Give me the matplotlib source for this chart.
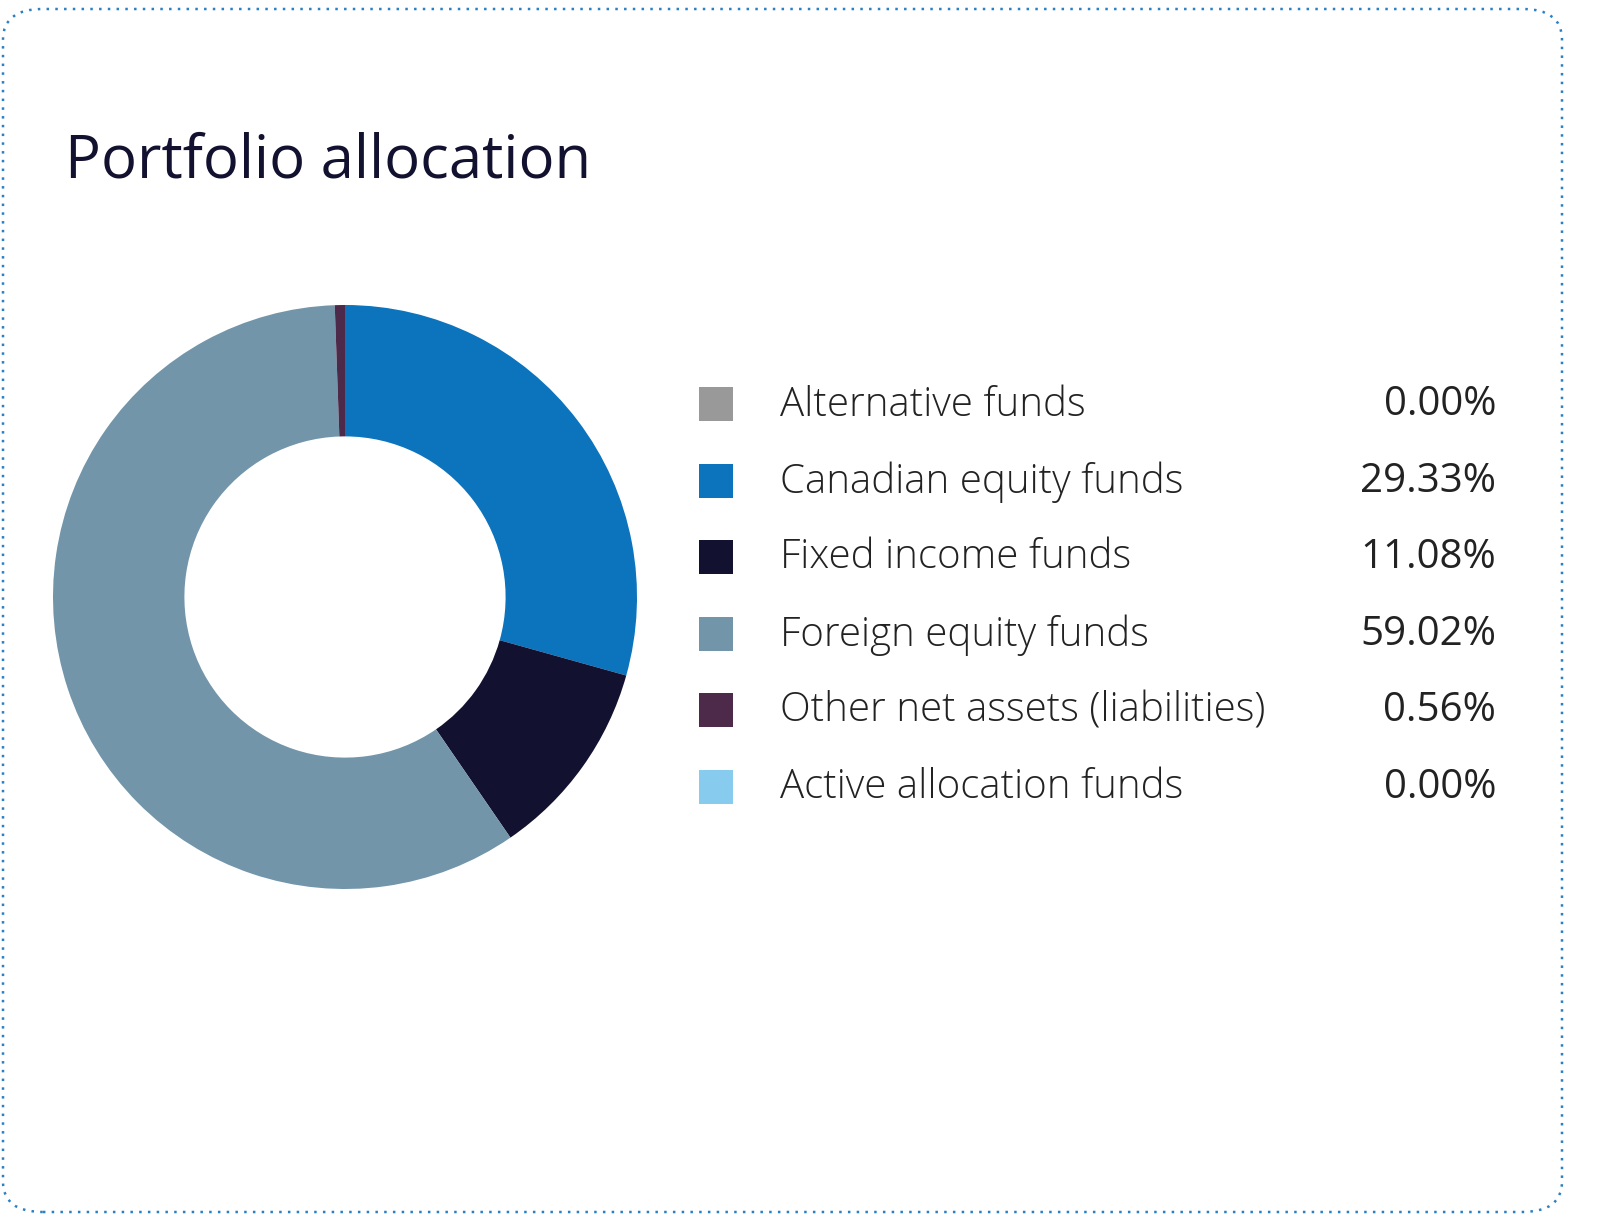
import matplotlib
matplotlib.use("Agg")
import matplotlib.pyplot as plt
from matplotlib.patches import FancyBboxPatch, Rectangle

labels = ["Alternative funds", "Canadian equity funds", "Fixed income funds",
          "Foreign equity funds", "Other net assets (liabilities)", "Active allocation funds"]
values = [0.00, 29.33, 11.08, 59.02, 0.56, 0.00]
colors = ["#999999", "#0c73bd", "#12112f", "#7295aa", "#4e2a4a", "#87ccee"]

W, H = 1597, 1217
fig = plt.figure(figsize=(W/100, H/100), dpi=100)
fig.patch.set_facecolor("white")

border = FancyBboxPatch((3/W, 5/H), (W-38)/W, (H-14)/H,
                        boxstyle="round,pad=0,rounding_size=0.025",
                        transform=fig.transFigure, fill=False,
                        edgecolor="#2a80c4", linestyle=(0, (1, 2.5)), linewidth=1.8)
fig.patches.append(border)

fig.text(65/W, 1-162/H, "Portfolio allocation", fontsize=43, color="#12112f",
         family="Open Sans", fontweight="normal", va="center", ha="left")

cx, cy, r = 345, 597, 292
ax = fig.add_axes([(cx-r)/W, 1-(cy+r)/H, 2*r/W, 2*r/H])
ax.pie(values, colors=colors, startangle=90, counterclock=False, radius=1,
       wedgeprops=dict(width=0.45, linewidth=0))
ax.set_xlim(-1, 1); ax.set_ylim(-1, 1); ax.set_aspect("equal"); ax.axis("off")

ys = [405, 482, 558, 635, 711, 788]
for lab, val, col, y in zip(labels, values, colors, ys):
    fig.patches.append(Rectangle((699/W, 1-(y+16)/H), 34/W, 34/H,
                                 transform=fig.transFigure, facecolor=col, edgecolor="none"))
    fig.text(780/W, 1-y/H, lab, fontsize=29, color="#222222", family="Open Sans",
             fontweight="light", va="center", ha="left")
    fig.text(1496/W, 1-y/H, f"{val:.2f}%", fontsize=29, color="#222222", family="Open Sans",
             va="center", ha="right")

fig.savefig("out.png", dpi=100, facecolor="white")
